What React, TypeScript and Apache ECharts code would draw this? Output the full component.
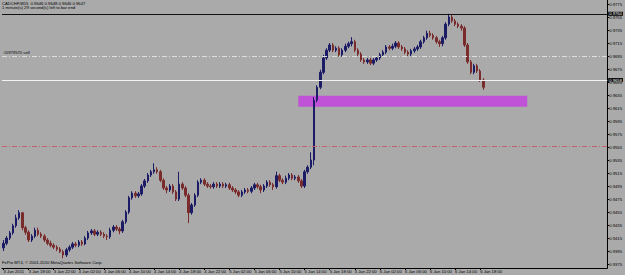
import React, { useEffect, useRef } from "react";
import * as echarts from "echarts";

const headerText = "CADCHF,M15  0.9646 0.9648 0.9646 0.9647";
const timerText = "1 minute(s) 29 second(s) left to bar end";
const copyrightText = "FxPro MT4, © 2001-2010 MetaQuotes Software Corp.";
const orderText = "#0979570 sell";

const timeLabels = [
  "3 Jan 2011", "3 Jan 18:00", "3 Jan 22:00", "4 Jan 02:00", "4 Jan 06:00",
  "4 Jan 10:00", "4 Jan 14:00", "4 Jan 18:00", "4 Jan 22:00", "5 Jan 02:00",
  "5 Jan 06:00", "5 Jan 10:00", "5 Jan 14:00", "5 Jan 18:00", "5 Jan 22:00",
  "6 Jan 02:00", "6 Jan 06:00", "6 Jan 10:00", "6 Jan 14:00", "6 Jan 18:00",
];

const priceTicks = [
  0.9375, 0.9395, 0.9415, 0.9435, 0.9455, 0.9475, 0.9495, 0.9515, 0.9535, 0.9555,
  0.9575, 0.9595, 0.9615, 0.9635, 0.9655, 0.9675, 0.9695, 0.9715, 0.9735, 0.9755, 0.9775,
];

// [open, close, low, high]
const bars = [
  [0.9400, 0.9407, 0.9395, 0.9412], [0.9407, 0.9415, 0.9404, 0.9418], [0.9415, 0.9423, 0.9412, 0.9426],
  [0.9423, 0.9434, 0.9420, 0.9437], [0.9434, 0.9446, 0.9431, 0.9451], [0.9446, 0.9454, 0.9443, 0.9458],
  [0.9454, 0.9431, 0.9427, 0.9455], [0.9431, 0.9424, 0.9420, 0.9434], [0.9424, 0.9412, 0.9409, 0.9427],
  [0.9412, 0.9418, 0.9409, 0.9421], [0.9418, 0.9427, 0.9415, 0.9431], [0.9427, 0.9421, 0.9418, 0.9431],
  [0.9421, 0.9418, 0.9415, 0.9424], [0.9418, 0.9412, 0.9409, 0.9421], [0.9412, 0.9407, 0.9404, 0.9415],
  [0.9407, 0.9404, 0.9401, 0.9411], [0.9404, 0.9401, 0.9398, 0.9407], [0.9401, 0.9398, 0.9395, 0.9404],
  [0.9398, 0.9394, 0.9392, 0.9401], [0.9394, 0.9389, 0.9384, 0.9397], [0.9389, 0.9397, 0.9386, 0.9400],
  [0.9397, 0.9401, 0.9394, 0.9404], [0.9401, 0.9406, 0.9398, 0.9409], [0.9406, 0.9404, 0.9401, 0.9409],
  [0.9404, 0.9409, 0.9401, 0.9412], [0.9409, 0.9406, 0.9403, 0.9412], [0.9406, 0.9415, 0.9404, 0.9418],
  [0.9415, 0.9423, 0.9412, 0.9426], [0.9423, 0.9426, 0.9420, 0.9429], [0.9426, 0.9421, 0.9418, 0.9429],
  [0.9421, 0.9424, 0.9418, 0.9427], [0.9424, 0.9421, 0.9418, 0.9427], [0.9421, 0.9418, 0.9415, 0.9424],
  [0.9418, 0.9417, 0.9412, 0.9421], [0.9417, 0.9427, 0.9414, 0.9431], [0.9427, 0.9432, 0.9424, 0.9435],
  [0.9432, 0.9429, 0.9426, 0.9435], [0.9429, 0.9426, 0.9421, 0.9432], [0.9426, 0.9440, 0.9423, 0.9443],
  [0.9440, 0.9455, 0.9437, 0.9458], [0.9455, 0.9477, 0.9452, 0.9480], [0.9477, 0.9484, 0.9474, 0.9487],
  [0.9484, 0.9480, 0.9477, 0.9487], [0.9480, 0.9483, 0.9477, 0.9486], [0.9483, 0.9495, 0.9480, 0.9498],
  [0.9495, 0.9503, 0.9492, 0.9506], [0.9503, 0.9512, 0.9500, 0.9515], [0.9512, 0.9517, 0.9509, 0.9520],
  [0.9517, 0.9520, 0.9514, 0.9530], [0.9520, 0.9517, 0.9514, 0.9524], [0.9517, 0.9504, 0.9501, 0.9520],
  [0.9504, 0.9492, 0.9489, 0.9507], [0.9492, 0.9489, 0.9484, 0.9495], [0.9489, 0.9495, 0.9486, 0.9498],
  [0.9495, 0.9486, 0.9483, 0.9498], [0.9486, 0.9475, 0.9472, 0.9489], [0.9475, 0.9498, 0.9472, 0.9517],
  [0.9498, 0.9492, 0.9489, 0.9501], [0.9492, 0.9481, 0.9478, 0.9495], [0.9481, 0.9454, 0.9438, 0.9484],
  [0.9454, 0.9466, 0.9451, 0.9469], [0.9466, 0.9481, 0.9463, 0.9484], [0.9481, 0.9501, 0.9478, 0.9504],
  [0.9501, 0.9504, 0.9498, 0.9507], [0.9504, 0.9498, 0.9495, 0.9507], [0.9498, 0.9495, 0.9492, 0.9501],
  [0.9495, 0.9494, 0.9491, 0.9498], [0.9494, 0.9498, 0.9491, 0.9501], [0.9498, 0.9495, 0.9492, 0.9501],
  [0.9495, 0.9498, 0.9492, 0.9501], [0.9498, 0.9495, 0.9492, 0.9501], [0.9495, 0.9497, 0.9492, 0.9500],
  [0.9497, 0.9492, 0.9489, 0.9500], [0.9492, 0.9489, 0.9486, 0.9495], [0.9489, 0.9486, 0.9483, 0.9492],
  [0.9486, 0.9481, 0.9478, 0.9489], [0.9481, 0.9486, 0.9478, 0.9489], [0.9486, 0.9489, 0.9483, 0.9492],
  [0.9489, 0.9487, 0.9484, 0.9492], [0.9487, 0.9492, 0.9484, 0.9495], [0.9492, 0.9497, 0.9489, 0.9500],
  [0.9497, 0.9494, 0.9491, 0.9500], [0.9494, 0.9489, 0.9484, 0.9497], [0.9489, 0.9495, 0.9486, 0.9498],
  [0.9495, 0.9501, 0.9492, 0.9504], [0.9501, 0.9497, 0.9494, 0.9504], [0.9497, 0.9494, 0.9489, 0.9500],
  [0.9494, 0.9511, 0.9491, 0.9517], [0.9511, 0.9504, 0.9501, 0.9514], [0.9504, 0.9501, 0.9498, 0.9507],
  [0.9501, 0.9507, 0.9498, 0.9511], [0.9507, 0.9512, 0.9504, 0.9515], [0.9512, 0.9507, 0.9504, 0.9515],
  [0.9507, 0.9509, 0.9504, 0.9512], [0.9509, 0.9503, 0.9500, 0.9512], [0.9503, 0.9495, 0.9492, 0.9506],
  [0.9495, 0.9517, 0.9492, 0.9520], [0.9517, 0.9524, 0.9514, 0.9527], [0.9524, 0.9535, 0.9521, 0.9547],
  [0.9535, 0.9627, 0.9527, 0.9632], [0.9627, 0.9647, 0.9624, 0.9650], [0.9647, 0.9670, 0.9644, 0.9674],
  [0.9670, 0.9692, 0.9667, 0.9697], [0.9692, 0.9704, 0.9689, 0.9707], [0.9704, 0.9712, 0.9701, 0.9715],
  [0.9712, 0.9704, 0.9701, 0.9715], [0.9704, 0.9707, 0.9701, 0.9710], [0.9707, 0.9697, 0.9694, 0.9710],
  [0.9697, 0.9704, 0.9694, 0.9707], [0.9704, 0.9710, 0.9701, 0.9714], [0.9710, 0.9714, 0.9707, 0.9717],
  [0.9714, 0.9717, 0.9710, 0.9724], [0.9717, 0.9704, 0.9701, 0.9720], [0.9704, 0.9698, 0.9695, 0.9707],
  [0.9698, 0.9689, 0.9686, 0.9701], [0.9689, 0.9686, 0.9683, 0.9692], [0.9686, 0.9689, 0.9683, 0.9692],
  [0.9689, 0.9684, 0.9681, 0.9692], [0.9684, 0.9689, 0.9681, 0.9692], [0.9689, 0.9692, 0.9686, 0.9695],
  [0.9692, 0.9697, 0.9689, 0.9700], [0.9697, 0.9701, 0.9694, 0.9704], [0.9701, 0.9709, 0.9698, 0.9712],
  [0.9709, 0.9707, 0.9704, 0.9712], [0.9707, 0.9710, 0.9704, 0.9714], [0.9710, 0.9715, 0.9707, 0.9718],
  [0.9715, 0.9709, 0.9706, 0.9718], [0.9709, 0.9706, 0.9703, 0.9712], [0.9706, 0.9701, 0.9698, 0.9709],
  [0.9701, 0.9698, 0.9695, 0.9704], [0.9698, 0.9703, 0.9695, 0.9706], [0.9703, 0.9706, 0.9700, 0.9709],
  [0.9706, 0.9709, 0.9703, 0.9712], [0.9709, 0.9717, 0.9706, 0.9720], [0.9717, 0.9723, 0.9714, 0.9726],
  [0.9723, 0.9730, 0.9720, 0.9734], [0.9730, 0.9727, 0.9724, 0.9734], [0.9727, 0.9723, 0.9720, 0.9730],
  [0.9723, 0.9717, 0.9714, 0.9726], [0.9717, 0.9714, 0.9709, 0.9720], [0.9714, 0.9723, 0.9710, 0.9726],
  [0.9723, 0.9744, 0.9720, 0.9747], [0.9744, 0.9755, 0.9741, 0.9760], [0.9755, 0.9749, 0.9746, 0.9758],
  [0.9749, 0.9744, 0.9741, 0.9752], [0.9744, 0.9741, 0.9738, 0.9747], [0.9741, 0.9738, 0.9734, 0.9744],
  [0.9738, 0.9712, 0.9709, 0.9741], [0.9712, 0.9686, 0.9683, 0.9715], [0.9686, 0.9670, 0.9667, 0.9689],
  [0.9670, 0.9680, 0.9667, 0.9683], [0.9680, 0.9672, 0.9669, 0.9683], [0.9672, 0.9658, 0.9655, 0.9675],
  [0.9658, 0.9647, 0.9643, 0.9661],
];

const resistanceLevel = 0.976;
const sellLevel = 0.9695;
const bidLevel = 0.9658;
const stopLevel = 0.9557;
const zoneSlots = [94, 167];
const zonePrices = [0.9634, 0.9617];

const SLOT_COUNT = 193;
const LABEL_STEP = 8;
const FONT = "'Liberation Sans', Arial, sans-serif";

export default function App() {
  const ref = useRef<HTMLDivElement>(null);

  useEffect(() => {
    if (!ref.current) return;
    const chart = echarts.init(ref.current, undefined, { renderer: "svg" });
    const slots = Array.from({ length: SLOT_COUNT }, (_, i) => String(i));
    const showLabel = (idx: number) => idx % LABEL_STEP === 0 && idx / LABEL_STEP < timeLabels.length;
    const small = { fontSize: 4.2, color: "#000", fontFamily: FONT };
    const boxLabel = {
      show: true,
      position: "end",
      backgroundColor: "#000",
      color: "#fff",
      fontSize: 4.2,
      fontFamily: FONT,
      padding: [0, 1],
      distance: 1,
    };

    chart.setOption({
      animation: false,
      backgroundColor: "#aaaaaa",
      title: [
        {
          text: headerText,
          subtext: timerText,
          left: 2,
          top: 1,
          padding: 0,
          itemGap: 0,
          textStyle: { ...small, fontWeight: "normal" },
          subtextStyle: { ...small },
        },
        {
          text: copyrightText,
          left: 2,
          top: 260,
          padding: 0,
          textStyle: { ...small, fontWeight: "normal" },
        },
      ],
      grid: { left: 2, right: 15, top: 0, bottom: 7 },
      xAxis: {
        type: "category",
        data: slots,
        boundaryGap: true,
        axisLine: { lineStyle: { color: "#000", width: 1 } },
        axisTick: { show: true, alignWithLabel: true, interval: (i: number) => showLabel(i), length: 2, lineStyle: { color: "#000" } },
        axisLabel: {
          interval: (i: number) => showLabel(i),
          formatter: (_v: string, i: number) => timeLabels[i / LABEL_STEP] ?? "",
          align: "left",
          margin: 1.5,
          ...small,
        },
        splitLine: { show: false },
      },
      yAxis: {
        type: "value",
        position: "right",
        min: 0.9369,
        max: 0.97812,
        axisLine: { show: true, lineStyle: { color: "#000", width: 1 } },
        axisTick: { show: true, customValues: priceTicks, length: 2, lineStyle: { color: "#000" } },
        axisLabel: {
          customValues: priceTicks,
          formatter: (v: number) => v.toFixed(4),
          margin: 2,
          ...small,
        },
        splitLine: { show: false },
      },
      series: [
        {
          type: "candlestick",
          data: bars,
          barWidth: 2,
          itemStyle: {
            color: "#1b1b66",
            color0: "#7a2c2c",
            borderColor: "#1b1b66",
            borderColor0: "#7a2c2c",
            borderWidth: 1,
          },
          markArea: {
            silent: true,
            itemStyle: { color: "#bf52d6", opacity: 1 },
            data: [[
              { coord: [String(zoneSlots[0]), zonePrices[0]] },
              { coord: [String(zoneSlots[1]), zonePrices[1]] },
            ]],
          },
          markLine: {
            silent: true,
            symbol: "none",
            precision: 4,
            data: [
              {
                yAxis: resistanceLevel,
                lineStyle: { color: "#111", width: 1.2, type: "solid" },
                label: { ...boxLabel, formatter: resistanceLevel.toFixed(4) },
              },
              {
                yAxis: sellLevel,
                lineStyle: { color: "#dedede", width: 1, type: [5, 2, 1, 2] },
                label: {
                  show: true, position: "insideStartTop", formatter: orderText,
                  color: "#000", fontSize: 4.2, fontFamily: FONT, distance: 1.5,
                },
              },
              {
                yAxis: bidLevel,
                lineStyle: { color: "#f2f2f2", width: 1, type: "solid" },
                label: { ...boxLabel, formatter: bidLevel.toFixed(4) },
              },
              {
                yAxis: stopLevel,
                lineStyle: { color: "#c0606c", width: 1, type: [5, 2, 1, 2] },
                label: { show: false },
              },
            ],
          },
        },
      ],
    });

    return () => chart.dispose();
  }, []);

  return (
    <div
      ref={ref}
      style={{ position: "fixed", left: 0, top: 0, width: 625, height: 275 }}
    />
  );
}
